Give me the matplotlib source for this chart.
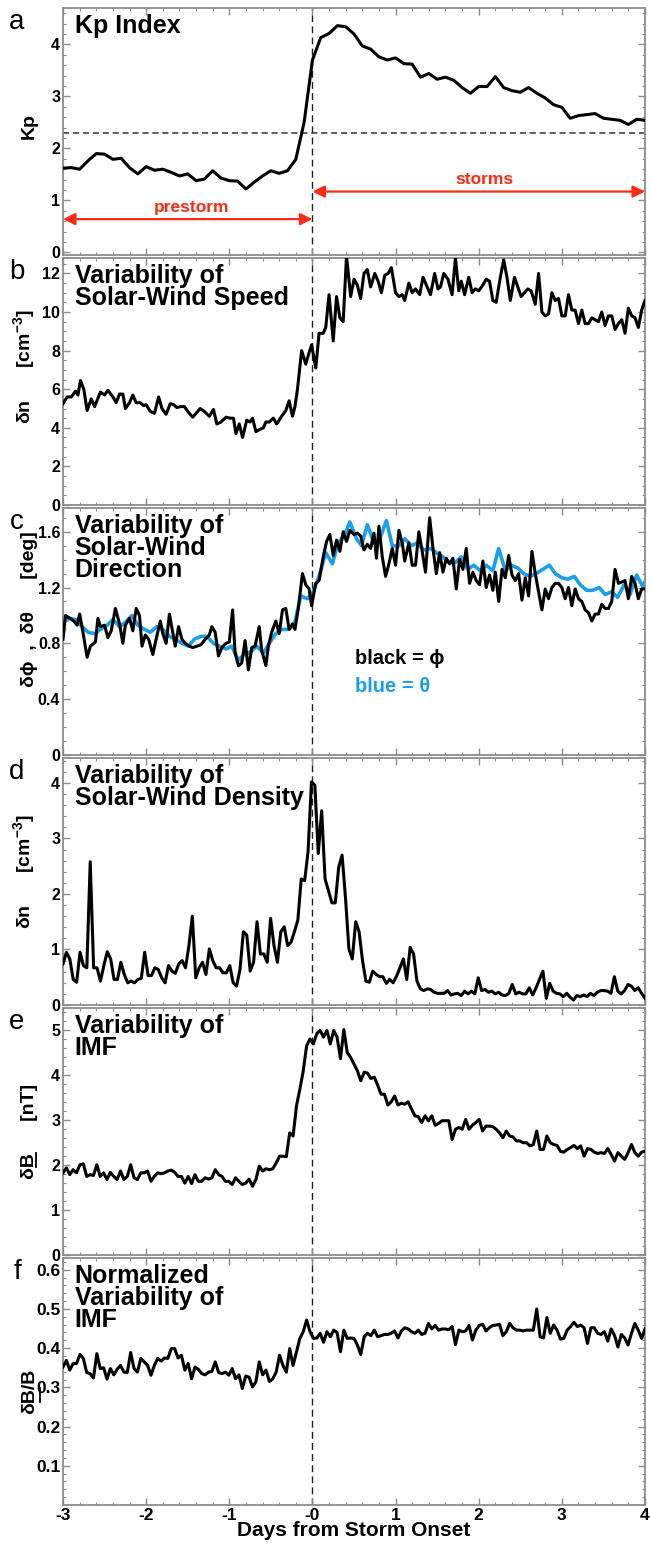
import numpy as np
import matplotlib
matplotlib.use("Agg")
import matplotlib.pyplot as plt
from matplotlib.lines import Line2D
from matplotlib.transforms import IdentityTransform
from matplotlib.ticker import MultipleLocator, FixedLocator, FixedFormatter

FONT = ["Liberation Sans", "DejaVu Sans"]
plt.rcParams["font.family"] = FONT
plt.rcParams["font.weight"] = "bold"
plt.rcParams["axes.labelweight"] = "bold"
plt.rcParams["mathtext.fontset"] = "custom"
plt.rcParams["mathtext.rm"] = "Liberation Sans"
plt.rcParams["mathtext.bf"] = "Liberation Sans:bold"

# ---- superposed-epoch averages, days from storm onset ----
kp_t = np.round(np.arange(-3.0, 4.001, 0.1), 2)
kp = [1.62, 1.63, 1.60, 1.76, 1.90, 1.89, 1.79, 1.81, 1.63, 1.51,
      1.65, 1.58, 1.60, 1.54, 1.47, 1.51, 1.38, 1.41, 1.57, 1.43,
      1.38, 1.37, 1.22, 1.35, 1.47, 1.57, 1.52, 1.57, 1.79, 2.50,
      3.70, 4.13, 4.21, 4.36, 4.34, 4.20, 3.97, 3.91, 3.76, 3.70,
      3.74, 3.63, 3.62, 3.37, 3.44, 3.33, 3.37, 3.31, 3.17, 3.06,
      3.19, 3.19, 3.38, 3.17, 3.11, 3.08, 3.17, 3.06, 2.97, 2.84,
      2.79, 2.58, 2.63, 2.65, 2.67, 2.58, 2.56, 2.54, 2.46, 2.56, 2.54]
kp_storm = 2.3

speed_t = [-3.00, -2.95, -2.90, -2.85, -2.82, -2.79, -2.75, -2.71, -2.66, -2.62,
           -2.55, -2.50, -2.46, -2.40, -2.36, -2.32, -2.28, -2.25, -2.20, -2.16,
           -2.12, -2.07, -2.03, -2.00, -1.95, -1.90, -1.85, -1.81, -1.76, -1.71,
           -1.67, -1.63, -1.59, -1.54, -1.49, -1.44, -1.40, -1.35, -1.30, -1.24,
           -1.19, -1.15, -1.10, -1.04, -0.99, -0.95, -0.92, -0.88, -0.84, -0.79,
           -0.75, -0.72, -0.68, -0.64, -0.59, -0.56, -0.52, -0.47, -0.43, -0.37,
           -0.32, -0.28, -0.24, -0.21, -0.18, -0.13, -0.08, -0.04, -0.01, 0.04,
           0.08, 0.13, 0.16, 0.20, 0.25, 0.29, 0.33, 0.37, 0.41, 0.46,
           0.50, 0.54, 0.58, 0.62, 0.66, 0.70, 0.75, 0.79, 0.83, 0.87,
           0.91, 0.95, 1.00, 1.04, 1.08, 1.11, 1.16, 1.20, 1.24, 1.29,
           1.33, 1.38, 1.42, 1.47, 1.51, 1.54, 1.58, 1.63, 1.68, 1.72,
           1.76, 1.79, 1.83, 1.88, 1.92, 1.96, 2.00, 2.05, 2.09, 2.13,
           2.17, 2.21, 2.26, 2.30, 2.34, 2.38, 2.43, 2.47, 2.51, 2.55,
           2.59, 2.63, 2.68, 2.72, 2.76, 2.80, 2.84, 2.88, 2.92, 2.96,
           3.00, 3.04, 3.08, 3.12, 3.16, 3.20, 3.24, 3.28, 3.32, 3.36,
           3.40, 3.44, 3.48, 3.52, 3.56, 3.60, 3.64, 3.68, 3.72, 3.76,
           3.80, 3.84, 3.88, 3.92, 3.96, 4.00]
speed = [5.25, 5.6, 5.6, 5.9, 5.7, 6.45, 6.0, 4.9, 5.5, 5.1,
         5.85, 5.7, 5.95, 5.6, 5.3, 5.75, 5.75, 5.0, 5.3, 5.7,
         5.3, 5.3, 5.15, 5.2, 4.85, 4.75, 5.6, 5.0, 4.7, 5.25,
         5.2, 5.05, 5.1, 5.1, 4.8, 4.55, 4.75, 5.0, 4.85, 4.6,
         4.95, 4.2, 4.3, 4.55, 4.5, 4.5, 3.7, 4.2, 3.5, 4.4,
         4.3, 4.5, 3.8, 3.9, 4.0, 4.3, 4.3, 4.5, 4.2, 4.6,
         4.9, 5.4, 4.6, 5.1, 6.0, 8.0, 7.3, 7.9, 8.3, 7.1,
         8.9, 8.9, 9.2, 10.9, 8.5, 10.8, 9.7, 9.5, 12.9, 10.8,
         11.7, 11.4, 10.7, 12.0, 12.2, 11.3, 12.0, 11.6, 11.0, 11.9,
         12.0, 12.3, 11.0, 10.8, 10.9, 10.6, 11.5, 11.0, 11.2, 10.9,
         11.8, 11.3, 10.9, 12.0, 11.2, 11.3, 12.0, 11.7, 10.9, 12.8,
         11.1, 11.6, 10.9, 11.8, 11.0, 11.2, 11.1, 11.4, 11.7, 11.6,
         10.6, 10.5, 11.8, 12.7, 11.8, 10.6, 11.8, 11.3, 10.8, 11.0,
         11.2, 11.1, 10.4, 12.0, 10.0, 9.8, 9.9, 11.0, 10.6, 10.7,
         9.8, 9.8, 10.9, 10.1, 10.1, 9.4, 10.1, 9.4, 9.4, 9.7,
         9.6, 9.5, 10.0, 9.3, 9.8, 9.8, 9.1, 9.4, 9.6, 8.9,
         10.2, 9.8, 9.7, 9.2, 10.1, 10.6]

phi_t = [-3.00, -2.97, -2.92, -2.87, -2.83, -2.80, -2.76, -2.71, -2.67, -2.61,
         -2.58, -2.55, -2.50, -2.46, -2.42, -2.37, -2.32, -2.28, -2.25, -2.20,
         -2.16, -2.12, -2.08, -2.05, -2.01, -1.97, -1.92, -1.88, -1.83, -1.80,
         -1.76, -1.72, -1.68, -1.65, -1.61, -1.57, -1.53, -1.48, -1.44, -1.39,
         -1.34, -1.29, -1.24, -1.21, -1.17, -1.13, -1.09, -1.04, -1.00, -0.96,
         -0.93, -0.89, -0.85, -0.81, -0.77, -0.73, -0.69, -0.64, -0.61, -0.56,
         -0.53, -0.49, -0.44, -0.40, -0.36, -0.32, -0.28, -0.24, -0.21, -0.17,
         -0.12, -0.08, -0.04, -0.01, 0.04, 0.08, 0.13, 0.17, 0.21, 0.25,
         0.29, 0.33, 0.37, 0.41, 0.45, 0.50, 0.54, 0.58, 0.62, 0.66,
         0.70, 0.74, 0.77, 0.80, 0.84, 0.88, 0.92, 0.96, 1.00, 1.04,
         1.08, 1.11, 1.16, 1.20, 1.24, 1.28, 1.32, 1.36, 1.41, 1.45,
         1.49, 1.53, 1.57, 1.61, 1.65, 1.69, 1.73, 1.77, 1.81, 1.85,
         1.89, 1.93, 1.97, 2.01, 2.05, 2.09, 2.13, 2.17, 2.20, 2.24,
         2.28, 2.32, 2.36, 2.40, 2.44, 2.48, 2.52, 2.56, 2.60, 2.64,
         2.68, 2.72, 2.76, 2.80, 2.84, 2.88, 2.92, 2.96, 3.00, 3.04,
         3.08, 3.12, 3.16, 3.20, 3.24, 3.28, 3.32, 3.36, 3.40, 3.44,
         3.48, 3.52, 3.56, 3.60, 3.64, 3.68, 3.72, 3.76, 3.80, 3.84,
         3.88, 3.92, 3.96, 4.00]
phi = [0.83, 1.00, 0.98, 0.96, 0.93, 1.01, 0.88, 0.70, 0.78, 0.81,
       0.98, 0.92, 0.93, 0.84, 0.89, 1.05, 0.94, 0.80, 0.93, 0.98,
       0.89, 1.05, 1.00, 0.78, 0.86, 0.83, 0.72, 0.83, 0.96, 0.87,
       0.80, 1.01, 0.88, 0.78, 0.92, 0.83, 0.80, 0.78, 0.77, 0.78,
       0.79, 0.83, 0.86, 0.92, 0.88, 0.71, 0.77, 0.80, 0.81, 1.04,
       0.73, 0.64, 0.66, 0.82, 0.61, 0.77, 0.78, 0.92, 0.75, 0.64,
       0.78, 0.88, 0.96, 0.87, 1.04, 1.05, 0.90, 0.94, 0.90, 1.05,
       1.30, 1.22, 1.19, 1.07, 1.23, 1.25, 1.42, 1.53, 1.58, 1.43,
       1.54, 1.46, 1.60, 1.53, 1.61, 1.58, 1.59, 1.57, 1.47, 1.51,
       1.48, 1.59, 1.41, 1.64, 1.42, 1.28, 1.37, 1.48, 1.36, 1.61,
       1.52, 1.39, 1.52, 1.36, 1.36, 1.60, 1.46, 1.31, 1.70, 1.48,
       1.30, 1.45, 1.31, 1.41, 1.37, 1.41, 1.19, 1.40, 1.33, 1.48,
       1.23, 1.31, 1.25, 1.22, 1.39, 1.20, 1.29, 1.18, 1.31, 1.10,
       1.33, 1.27, 1.43, 1.29, 1.25, 1.30, 1.11, 1.27, 1.14, 1.46,
       1.30, 1.17, 1.04, 1.19, 1.12, 1.20, 1.23, 1.23, 1.20, 1.12,
       1.20, 1.07, 1.19, 1.12, 1.10, 1.04, 1.02, 0.96, 1.01, 1.01,
       1.08, 1.05, 1.05, 1.10, 1.33, 1.23, 1.24, 1.25, 1.12, 1.28,
       1.23, 1.12, 1.19, 1.19]

theta_t = [-3.00, -2.92, -2.85, -2.77, -2.70, -2.62, -2.55, -2.47, -2.40, -2.32,
           -2.25, -2.17, -2.10, -2.02, -1.95, -1.87, -1.80, -1.72, -1.65, -1.57,
           -1.49, -1.42, -1.34, -1.27, -1.19, -1.12, -1.04, -0.97, -0.89, -0.82,
           -0.74, -0.67, -0.59, -0.52, -0.44, -0.37, -0.29, -0.22, -0.14, -0.06,
           0.01, 0.09, 0.16, 0.24, 0.31, 0.39, 0.45, 0.53, 0.59, 0.66,
           0.74, 0.81, 0.89, 0.96, 1.04, 1.11, 1.19, 1.26, 1.34, 1.42,
           1.49, 1.57, 1.64, 1.72, 1.79, 1.87, 1.94, 2.02, 2.09, 2.17,
           2.24, 2.32, 2.39, 2.47, 2.54, 2.62, 2.69, 2.77, 2.85, 2.92,
           3.00, 3.07, 3.15, 3.22, 3.30, 3.37, 3.45, 3.52, 3.60, 3.67,
           3.75, 3.82, 3.90, 3.97, 4.00]
theta = [0.95, 0.98, 0.97, 0.92, 0.88, 0.87, 0.90, 0.93, 0.97, 0.92,
         0.95, 1.00, 0.93, 0.90, 0.88, 0.92, 0.90, 0.85, 0.83, 0.80,
         0.78, 0.83, 0.85, 0.85, 0.80, 0.78, 0.76, 0.78, 0.68, 0.72,
         0.74, 0.78, 0.73, 0.80, 0.87, 0.90, 0.90, 0.93, 1.14, 1.12,
         1.17, 1.30, 1.45, 1.37, 1.52, 1.58, 1.67, 1.55, 1.50, 1.65,
         1.52, 1.55, 1.68, 1.50, 1.50, 1.55, 1.50, 1.52, 1.47, 1.48,
         1.45, 1.42, 1.38, 1.38, 1.42, 1.33, 1.36, 1.32, 1.36, 1.32,
         1.48, 1.32, 1.36, 1.34, 1.30, 1.28, 1.30, 1.33, 1.36, 1.30,
         1.27, 1.26, 1.28, 1.22, 1.18, 1.18, 1.20, 1.15, 1.17, 1.13,
         1.22, 1.15, 1.29, 1.21, 1.24]

# evenly sampled from -3 to +4 days
density = [0.74, 0.95, 0.83, 0.46, 0.41, 0.95, 0.71, 0.67, 2.58, 0.67,
           0.67, 0.43, 0.71, 0.96, 0.83, 0.46, 0.46, 0.77, 0.55, 0.40,
           0.43, 0.40, 0.46, 0.48, 0.95, 0.53, 0.53, 0.67, 0.64, 0.49,
           0.40, 0.71, 0.61, 0.57, 0.74, 0.80, 0.67, 1.07, 1.60, 0.49,
           0.67, 0.77, 0.55, 1.01, 0.80, 0.67, 0.67, 0.58, 0.58, 0.71,
           0.40, 0.34, 0.64, 1.32, 1.26, 0.61, 0.77, 1.50, 0.92, 0.92,
           0.77, 1.56, 1.07, 0.77, 1.32, 1.41, 1.07, 1.13, 1.32, 1.53,
           2.27, 2.24, 2.76, 4.02, 3.96, 2.73, 3.50, 2.27, 2.06, 1.84,
           1.84, 2.48, 2.70, 1.93, 1.01, 0.83, 1.50, 1.32, 0.80, 0.43,
           0.41, 0.61, 0.55, 0.51, 0.51, 0.39, 0.46, 0.40, 0.52, 0.67,
           0.83, 0.46, 1.04, 0.92, 0.43, 0.29, 0.26, 0.29, 0.28, 0.23,
           0.21, 0.21, 0.21, 0.26, 0.18, 0.20, 0.21, 0.17, 0.25, 0.20,
           0.25, 0.20, 0.49, 0.26, 0.28, 0.23, 0.25, 0.20, 0.23, 0.18,
           0.17, 0.21, 0.37, 0.20, 0.23, 0.20, 0.20, 0.31, 0.18, 0.31,
           0.46, 0.61, 0.12, 0.39, 0.25, 0.21, 0.20, 0.15, 0.21, 0.14,
           0.09, 0.17, 0.15, 0.18, 0.15, 0.21, 0.17, 0.23, 0.26, 0.26,
           0.25, 0.21, 0.51, 0.25, 0.20, 0.26, 0.37, 0.34, 0.26, 0.31,
           0.21, 0.12]

imf = [1.83, 1.94, 1.79, 1.90, 1.83, 2.01, 2.03, 1.75, 1.79, 1.77,
       2.01, 1.75, 1.83, 1.68, 1.84, 1.75, 1.68, 1.87, 1.68, 1.75,
       2.01, 1.72, 1.68, 1.83, 1.83, 1.87, 1.64, 1.75, 1.83, 1.81,
       1.83, 1.87, 1.89, 1.84, 1.75, 1.75, 1.60, 1.75, 1.59, 1.79,
       1.64, 1.64, 1.72, 1.69, 1.72, 1.90, 1.79, 1.75, 1.64, 1.64,
       1.57, 1.72, 1.64, 1.57, 1.60, 1.69, 1.53, 1.68, 1.98, 1.87,
       1.92, 1.90, 1.92, 2.05, 2.20, 2.20, 2.19, 2.72, 2.65, 3.32,
       3.69, 4.10, 4.66, 4.81, 4.70, 4.93, 5.00, 4.85, 5.00, 4.70,
       5.00, 4.85, 4.37, 5.02, 4.51, 4.40, 4.25, 4.10, 3.88, 4.07,
       4.05, 3.93, 3.96, 3.78, 3.58, 3.58, 3.34, 3.41, 3.54, 3.34,
       3.38, 3.36, 3.41, 3.25, 3.10, 3.08, 2.95, 3.10, 2.99, 3.10,
       2.89, 2.93, 2.99, 2.99, 2.99, 2.57, 2.80, 2.84, 2.80, 3.02,
       2.80, 2.89, 2.95, 3.02, 2.76, 2.87, 2.87, 2.86, 2.80, 2.72,
       2.61, 2.76, 2.65, 2.63, 2.54, 2.54, 2.50, 2.50, 2.43, 2.46,
       2.76, 2.35, 2.35, 2.65, 2.50, 2.46, 2.44, 2.31, 2.29, 2.35,
       2.39, 2.44, 2.37, 2.43, 2.20, 2.37, 2.35, 2.29, 2.26, 2.28,
       2.26, 2.37, 2.24, 2.09, 2.28, 2.20, 2.13, 2.28, 2.46, 2.28,
       2.20, 2.29, 2.31]

imf_norm = [0.352, 0.369, 0.344, 0.361, 0.361, 0.384, 0.374, 0.338, 0.335, 0.324,
            0.386, 0.348, 0.350, 0.321, 0.348, 0.332, 0.346, 0.356, 0.339, 0.338,
            0.389, 0.348, 0.339, 0.374, 0.365, 0.356, 0.331, 0.356, 0.374, 0.367,
            0.375, 0.374, 0.399, 0.399, 0.375, 0.382, 0.344, 0.361, 0.322, 0.352,
            0.346, 0.335, 0.332, 0.339, 0.341, 0.365, 0.338, 0.335, 0.339, 0.331,
            0.348, 0.322, 0.332, 0.297, 0.329, 0.326, 0.301, 0.314, 0.365, 0.332,
            0.344, 0.315, 0.322, 0.339, 0.382, 0.356, 0.339, 0.399, 0.356, 0.391,
            0.425, 0.442, 0.472, 0.442, 0.425, 0.426, 0.438, 0.415, 0.442, 0.429,
            0.446, 0.440, 0.391, 0.446, 0.425, 0.426, 0.425, 0.408, 0.384, 0.429,
            0.438, 0.432, 0.446, 0.429, 0.432, 0.435, 0.435, 0.438, 0.444, 0.426,
            0.444, 0.452, 0.449, 0.442, 0.438, 0.446, 0.435, 0.438, 0.463, 0.449,
            0.458, 0.446, 0.449, 0.449, 0.447, 0.455, 0.409, 0.446, 0.442, 0.444,
            0.458, 0.421, 0.446, 0.458, 0.461, 0.444, 0.452, 0.458, 0.459, 0.461,
            0.432, 0.442, 0.463, 0.452, 0.446, 0.446, 0.444, 0.446, 0.446, 0.446,
            0.500, 0.429, 0.426, 0.478, 0.438, 0.459, 0.446, 0.423, 0.425, 0.446,
            0.455, 0.466, 0.455, 0.459, 0.452, 0.412, 0.452, 0.452, 0.438, 0.435,
            0.442, 0.418, 0.449, 0.432, 0.403, 0.435, 0.426, 0.408, 0.438, 0.463,
            0.446, 0.425, 0.449]

day_ticks = [-3, -2, -1, 0, 1, 2, 3, 4]
day_labels = ["-3", "-2", "-1", "-0", "1", "2", "3", "4"]

RED = "#ff2a14"
BLUE = "#1a9ff0"
FRAME = "#8c8c8c"

# ---- layout: six stacked frames on a 650 x 1549 canvas ----
W, H = 650.0, 1549.0
fig = plt.figure(figsize=(W / 100, H / 100), dpi=100)
x0, pw, ph = 63, 582, 247
tops = [8, 258, 508, 758, 1008, 1258]
axes = [fig.add_axes([x0 / W, 1 - (t + ph) / H, pw / W, ph / H]) for t in tops]

ylims = [(-0.05, 4.7), (0, 12.8), (0, 1.77), (0, 4.45), (0, 5.5), (0, 0.63)]
ymaj = [[0, 1, 2, 3, 4], [0, 2, 4, 6, 8, 10, 12], [0, 0.4, 0.8, 1.2, 1.6],
        [0, 1, 2, 3, 4], [0, 1, 2, 3, 4, 5], [0.1, 0.2, 0.3, 0.4, 0.5, 0.6]]
ymin = [0.2, 0.5, 0.1, 0.2, 0.2, 0.02]
letters = ["a", "b", "c", "d", "e", "f"]
titles = ["Kp Index", "Variability of\nSolar-Wind Speed",
          "Variability of\nSolar-Wind\nDirection",
          "Variability of\nSolar-Wind Density", "Variability of\nIMF",
          "Normalized\nVariability of\nIMF"]
ylabels = ["Kp", "\u03b4n      [cm$^{\\mathbf{-3}}$]",
           "\u03b4\u03d5  ,  \u03b4\u03b8      [deg]",
           "\u03b4n      [cm$^{\\mathbf{-3}}$]",
           "\u03b4B      [nT]",
           "\u03b4B/B"]
ylab_y = [0.52, 0.56, 0.59, 0.54, 0.50, 0.46]

for i, ax in enumerate(axes):
    ax.set_xlim(-3, 4)
    ax.set_ylim(*ylims[i])
    ax.xaxis.set_major_locator(FixedLocator(day_ticks))
    ax.xaxis.set_minor_locator(MultipleLocator(0.2))
    ax.yaxis.set_major_locator(FixedLocator(ymaj[i]))
    ax.yaxis.set_minor_locator(MultipleLocator(ymin[i]))
    ax.yaxis.set_major_formatter(FixedFormatter([f"{v:g}" for v in ymaj[i]]))
    for sp in ax.spines.values():
        sp.set_color(FRAME)
        sp.set_linewidth(1.3)
    ax.tick_params(which="both", direction="in", top=True, right=True,
                   color=FRAME, labelbottom=False, pad=2)
    ax.tick_params(which="major", length=5, width=1.0, labelsize=11.5)
    ax.tick_params(which="minor", length=2.5, width=0.8)
    ax.axvline(0, color="#222222", lw=1.0, ls=(0, (5, 3)), zorder=1)
    ax.set_ylabel(ylabels[i], fontsize=14)
    ax.yaxis.set_label_coords(-0.043, ylab_y[i])
    ax.text(0.02, 0.975, titles[i], transform=ax.transAxes, ha="left", va="top",
            fontsize=18, linespacing=0.9)
    fig.text(17 / W, 1 - (tops[i] + 14) / H, letters[i], ha="center", va="center",
             fontsize=20, fontweight="normal")

# a: Kp
ax = axes[0]
ax.plot(kp_t, kp, color="black", lw=2.2, zorder=3)
ax.axhline(kp_storm, color="#333333", lw=1.1, ls=(0, (4, 2.5)), zorder=2)
arrow = dict(arrowstyle="<|-|>", color=RED, lw=1.6, mutation_scale=18,
             shrinkA=0, shrinkB=0)
ax.annotate("", xy=(0, 0.64), xytext=(-3, 0.64), arrowprops=arrow)
ax.annotate("", xy=(4, 1.17), xytext=(0, 1.17), arrowprops=arrow)
ax.text(-1.45, 0.86, "prestorm", color=RED, ha="center", va="center", fontsize=12.5)
ax.text(2.07, 1.41, "storms", color=RED, ha="center", va="center", fontsize=12.5)

# b: solar-wind speed variability
axes[1].plot(speed_t, speed, color="black", lw=2.2, zorder=3)

# c: direction variability, theta under phi
ax = axes[2]
ax.plot(theta_t, theta, color=BLUE, lw=2.6, zorder=2)
ax.plot(phi_t, phi, color="black", lw=2.2, zorder=3)
ax.text(0.51, 0.69, "black = \u03d5", color="black", ha="left", va="center", fontsize=14.5)
ax.text(0.51, 0.49, "blue = \u03b8", color=BLUE, ha="left", va="center", fontsize=14.5)

# d, e, f
for ax, vals in zip(axes[3:], [density, imf, imf_norm]):
    t = np.linspace(-3, 4, len(vals))
    ax.plot(t, vals, color="black", lw=2.2, zorder=3)

ax = axes[5]
ax.tick_params(labelbottom=True, labelsize=12.5, pad=2)
ax.xaxis.set_major_formatter(FixedFormatter(day_labels))
ax.set_xlabel("Days from Storm Onset", fontsize=15, labelpad=-1)

# underline the vector B in the e and f axis labels (rotated text: the
# underline runs along the right-hand side of the glyph)
fig.canvas.draw()
rend = fig.canvas.get_renderer()
for ax in axes[4:]:
    lab = ax.yaxis.label
    bb = lab.get_window_extent(rend)
    prop = lab.get_fontproperties()
    w0 = rend.get_text_width_height_descent("\u03b4", prop, ismath=False)[0]
    w1 = rend.get_text_width_height_descent("\u03b4B", prop, ismath=False)[0]
    desc = rend.get_text_width_height_descent(lab.get_text(), prop, ismath=False)[2]
    xu = bb.x1 - desc + 2.0
    fig.add_artist(Line2D([xu, xu], [bb.y0 + w0, bb.y0 + w1], color="black",
                          lw=1.3, transform=IdentityTransform()))

fig.savefig("out.png", dpi=100)
